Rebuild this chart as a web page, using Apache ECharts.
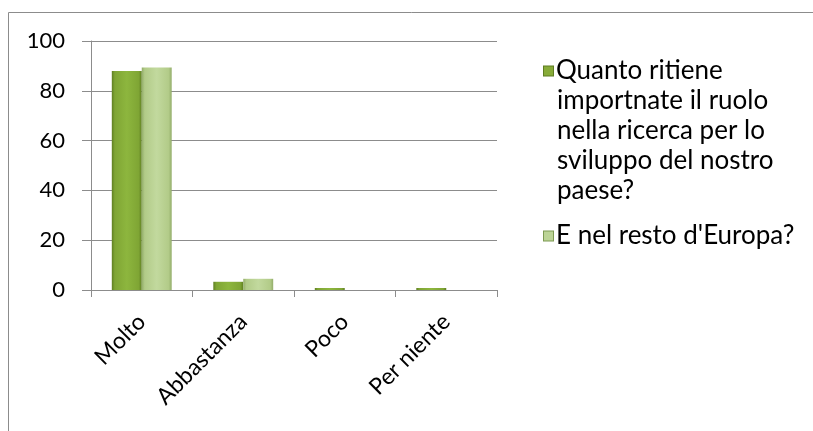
<!DOCTYPE html>
<html><head><meta charset="utf-8">
<script src="https://cdn.jsdelivr.net/npm/echarts@6/dist/echarts.min.js"></script>
<style>html,body{margin:0;padding:0;background:#fff}#c{width:813px;height:431px}</style>
</head><body><div id="c"></div>
<script>
const categories = ['Molto', 'Abbastanza', 'Poco', 'Per niente'];
const seriesNames = ['Quanto ritiene importnate il ruolo nella ricerca per lo sviluppo del nostro paese?', "E nel resto d'Europa?"];
const seriesA = [88, 3.3, 0.8, 0.8];
const seriesB = [89.4, 4.5, 0, 0];
const yTicks = [0, 20, 40, 60, 80, 100];

const FONT = 'Lato';
const FS = 22;
const LFS = 26;
function grad(edge, mid, light) {
  return new echarts.graphic.LinearGradient(0, 0, 1, 0, [
    {offset: 0, color: edge}, {offset: 0.1, color: mid}, {offset: 0.5, color: light}, {offset: 0.9, color: mid}, {offset: 1, color: edge}
  ]);
}
const chart = echarts.init(document.getElementById('c'));
const legendLines = {
  [seriesNames[0]]: ['Quanto ritiene', 'importnate il ruolo', 'nella ricerca per lo', 'sviluppo del nostro', 'paese?'],
  [seriesNames[1]]: ["E nel resto d'Europa?"]
};
const LH = 30;
chart.setOption({
  animation: false,
  graphic: [{type: 'rect', shape: {x: 8.5, y: 12.5, width: 900, height: 600}, style: {fill: 'none', stroke: '#8c8c8c', lineWidth: 1}}],
  grid: {left: 91, right: 316, top: 41, bottom: 141, containLabel: false},
  legend: {
    orient: 'vertical', left: 534, top: 53, icon: 'none', itemWidth: 0, itemGap: 19,
    data: seriesNames,
    formatter: function (name) {
      const lines = legendLines[name];
      return lines.map((l, i) => (i === 0 ? '{sq' + (name === seriesNames[0] ? 'a' : 'b') + '|}{g|}{t|' : '{pad|}{t|') + l + '}').join('\n');
    },
    textStyle: {
      fontFamily: FONT, fontSize: LFS, color: '#000',
      rich: {
        t: {fontFamily: FONT, fontSize: LFS, color: '#000', lineHeight: LH},
        sqa: {width: 9, height: 9, backgroundColor: '#87ab38', borderColor: '#5f7d22', borderWidth: 1, lineHeight: LH},
        sqb: {width: 9, height: 9, backgroundColor: '#bcd496', borderColor: '#7d9a52', borderWidth: 1, lineHeight: LH},
        g: {width: 3, lineHeight: LH},
        pad: {width: 13, lineHeight: LH}
      }
    }
  },
  xAxis: {
    type: 'category', data: categories,
    axisLine: {lineStyle: {color: '#8c8c8c', width: 1}},
    axisTick: {show: true, length: 7, lineStyle: {color: '#8c8c8c'}},
    axisLabel: {rotate: 45, margin: 28, fontFamily: FONT, fontSize: 23, color: '#000', interval: 0}
  },
  yAxis: {
    type: 'value', min: 0, max: 100, interval: 20,
    axisLine: {show: true, lineStyle: {color: '#8c8c8c', width: 1}},
    axisTick: {show: true, length: 9, lineStyle: {color: '#8c8c8c'}},
    splitLine: {lineStyle: {color: '#8c8c8c', width: 1}},
    axisLabel: {margin: 26, fontFamily: FONT, fontSize: FS, color: '#000',
      formatter: v => yTicks.includes(v) ? String(v) : ''}
  },
  series: [
    {name: seriesNames[0], type: 'bar', data: seriesA, barGap: '0%', barCategoryGap: '41%',
      itemStyle: {color: grad('#5f7f22', '#7fa534', '#8db63e')}},
    {name: seriesNames[1], type: 'bar', data: seriesB,
      itemStyle: {color: grad('#93ad6a', '#b2cb88', '#c2d99e')}}
  ]
});
</script></body></html>
